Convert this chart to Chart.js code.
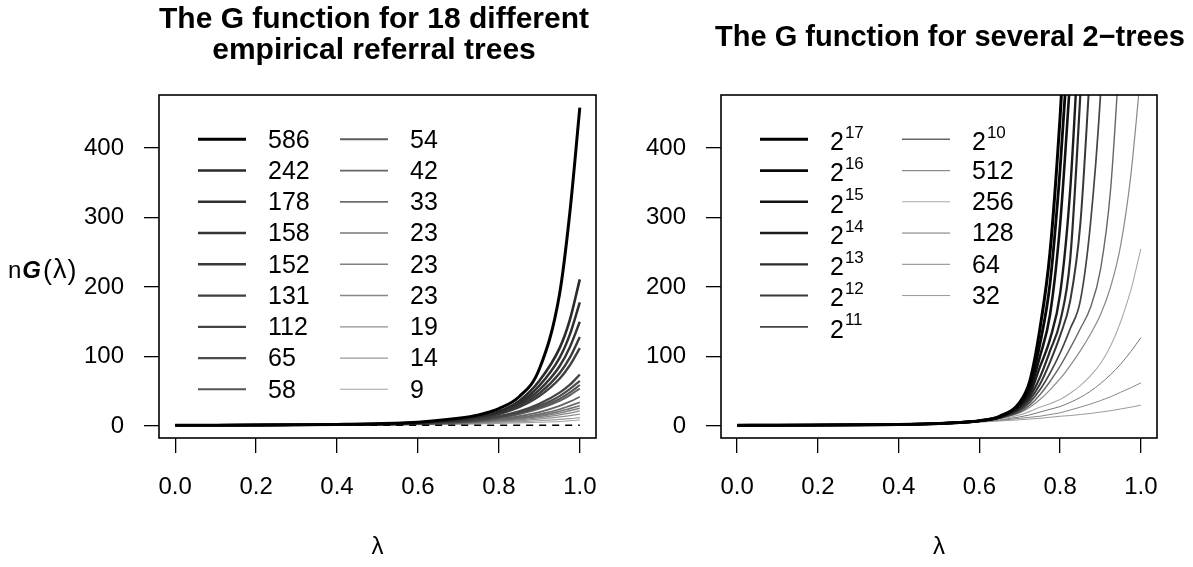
<!DOCTYPE html>
<html>
<head>
<meta charset="utf-8">
<script src="https://cdn.jsdelivr.net/npm/chart.js@4.4.1/dist/chart.umd.min.js"></script>
<style>
html, body { margin: 0; padding: 0; background: #fff; }
#wrap { position: relative; width: 1193px; height: 567px; }
canvas { position: absolute; left: 0; top: 0; }
</style>
</head>
<body>
<div id="wrap">
<canvas id="left" width="1193" height="567"></canvas>
<canvas id="right" width="1193" height="567"></canvas>
</div>
<script>
const FONT = "'Liberation Sans', Arial, Helvetica, sans-serif";

// ---- left panel: 18 empirical referral trees ----
var lamLeft = [0, 0.1, 0.2, 0.3, 0.4, 0.5, 0.6, 0.7, 0.75, 0.8, 0.85, 0.9, 0.95, 0.975, 1.0];
var leftLabels = ['586', '242', '178', '158', '152', '131', '112', '65', '58',
                  '54', '42', '33', '23', '23', '23', '19', '14', '9'];
var g586 = [1, 1.1, 1.3, 1.7, 2.3, 3.3, 5.5, 11, 16, 25, 42, 82, 190, 305, 458];
var g242 = [1, 1.1, 1.3, 1.6, 2.2, 3.1, 5.0, 9.5, 14, 21, 36, 65, 112, 152, 211];
var g178 = [1, 1.1, 1.3, 1.6, 2.1, 3.0, 4.8, 9, 13, 20, 33, 58, 98, 131, 178];
var g158 = [1, 1.1, 1.3, 1.6, 2.1, 2.9, 4.6, 8.5, 12.5, 19, 31, 52, 86, 113, 150];
var g152 = [1, 1.1, 1.3, 1.6, 2.0, 2.8, 4.4, 8, 12, 18, 29, 47, 76, 98, 128];
var g131 = [1, 1.1, 1.3, 1.5, 2.0, 2.7, 4.2, 7.5, 11, 17, 27, 43, 68, 87, 112];
var g112 = [1, 1.1, 1.2, 1.5, 1.9, 2.5, 3.8, 6.5, 9, 14, 21, 32, 48, 59, 74];
var g65 = [1, 1.1, 1.2, 1.5, 1.9, 2.4, 3.6, 6, 8.5, 13, 19, 29, 43, 53, 65];
var g58 = [1, 1.1, 1.2, 1.4, 1.8, 2.3, 3.4, 5.7, 8, 12, 18, 27, 39, 48, 59];
var g54 = [1, 1.1, 1.2, 1.4, 1.8, 2.3, 3.3, 5.5, 7.6, 11.5, 17, 25, 36, 44, 54];
var g42 = [1, 1.1, 1.2, 1.4, 1.7, 2.2, 3.1, 5, 6.8, 10, 14, 20, 29, 35, 42];
var g33 = [1, 1.1, 1.2, 1.4, 1.7, 2.1, 2.9, 4.6, 6.2, 9, 12, 17, 24, 29, 34];
var g23a = [1, 1.1, 1.2, 1.4, 1.6, 2.0, 2.8, 4.3, 5.7, 8, 11, 15, 21, 25, 29];
var g23b = [1, 1.1, 1.2, 1.3, 1.6, 2.0, 2.7, 4.1, 5.4, 7.5, 10, 13.5, 18.5, 22, 25.5];
var g23c = [1, 1.1, 1.2, 1.3, 1.6, 1.9, 2.6, 3.9, 5, 7, 9, 12, 16, 18.5, 21.7];
var g19 = [1, 1.1, 1.2, 1.3, 1.5, 1.8, 2.4, 3.5, 4.4, 6, 7.5, 10, 13, 15, 17];
var g14 = [1, 1.1, 1.1, 1.3, 1.4, 1.7, 2.2, 3.0, 3.7, 5, 6, 7.5, 9.5, 10.5, 12];
var g9 = [1, 1.0, 1.1, 1.2, 1.3, 1.5, 1.9, 2.5, 3.0, 3.7, 4.4, 5.3, 6.5, 7.5, 8.7];
var leftSeries = [g586, g242, g178, g158, g152, g131, g112, g65, g58,
                  g54, g42, g33, g23a, g23b, g23c, g19, g14, g9];
var refLine = [1, 1];
var refLam = [0, 1];

// ---- right panel: 2-trees ----
var lamRight = [0, 0.1, 0.2, 0.3, 0.4, 0.5, 0.55, 0.6, 0.65, 0.7, 0.725, 0.75, 0.775,
                0.8, 0.825, 0.85, 0.875, 0.9, 0.925, 0.95, 0.975, 1.0];
var rightLabels = ['2^17', '2^16', '2^15', '2^14', '2^13', '2^12', '2^11',
                   '2^10', '512', '256', '128', '64', '32'];
var t17 = [1, 1.1, 1.3, 1.6, 2.1, 3.5, 5, 7.5, 14, 34, 65, 140, 250, 445, 700];
var t16 = [1, 1.1, 1.3, 1.6, 2.1, 3.5, 5, 7.5, 13.5, 32, 58, 118, 205, 370, 590];
var t15 = [1, 1.1, 1.3, 1.6, 2.1, 3.5, 5, 7.5, 13, 30, 52, 100, 160, 290, 500];
var t14 = [1, 1.1, 1.3, 1.6, 2.1, 3.5, 5, 7.4, 12.5, 28, 46, 85, 125, 190, 340, 600];
var t13 = [1, 1.1, 1.3, 1.6, 2.1, 3.4, 4.9, 7.3, 12, 26, 42, 70, 108, 150, 240, 476, 760];
var t12 = [1, 1.1, 1.3, 1.6, 2.1, 3.4, 4.9, 7.2, 12, 24, 38, 60, 92, 130, 180, 290, 520];
var t11 = [1, 1.1, 1.3, 1.6, 2.1, 3.4, 4.8, 7.1, 11.5, 22, 34, 52, 76, 105, 140, 180, 290, 476, 760];
var t10 = [1, 1.1, 1.3, 1.6, 2.1, 3.3, 4.7, 7, 11.5, 20, 30, 45, 64, 86, 112, 140, 170, 225, 340, 560];
var t512 = [1, 1.1, 1.3, 1.6, 2.0, 3.3, 4.6, 6.8, 11, 19, 27, 38, 52, 68, 87, 108, 132, 160, 200, 260, 360, 510];
var t256 = [1, 1.1, 1.3, 1.6, 2.0, 3.2, 4.5, 6.6, 10, 16, 21, 27, 32, 38, 47, 58, 72, 90, 115, 150, 195, 255];
var t128 = [1, 1.1, 1.3, 1.5, 2.0, 3.1, 4.3, 6.3, 9, 13, 16, 20, 24, 28, 34, 41, 50, 61, 74, 89, 107, 127];
var t64 = [1, 1.1, 1.2, 1.5, 1.9, 3.0, 4.1, 5.9, 8, 11, 12.5, 14, 16.5, 19, 23, 27, 31.5, 36.5, 42, 48.5, 55, 62];
var t32 = [1, 1.1, 1.2, 1.5, 1.9, 2.8, 3.8, 5.5, 7.2, 9, 10, 11, 12.5, 14, 15, 16.5, 18, 20, 22, 24.5, 27, 30];
var rightSeries = [t17, t16, t15, t14, t13, t12, t11, t10, t512, t256, t128, t64, t32];

var xTicks = [0, 0.2, 0.4, 0.6, 0.8, 1.0];
var yTicks = [0, 100, 200, 300, 400];

// styles
var leftColors = ['#000000', '#2a2a2a', '#303030', '#353535', '#3a3a3a', '#3f3f3f', '#444444', '#4c4c4c',
                  '#555555', '#5e5e5e', '#666666', '#6e6e6e', '#777777', '#808080', '#888888',
                  '#909090', '#999999', '#a3a3a3'];
var leftWidths = [3, 2.6, 2.5, 2.45, 2.4, 2.35, 2.3, 2.2, 2.1, 1.9, 1.8, 1.7, 1.6, 1.5, 1.4, 1.3, 1.2, 1.1];
var rightColors = ['#000000', '#080808', '#111111', '#1c1c1c', '#2a2a2a', '#383838', '#444444',
                   '#666666', '#8a8a8a', '#aaaaaa', '#777777', '#888888', '#999999'];
var rightWidths = [3, 2.8, 2.6, 2.4, 2.2, 2, 1.7, 1.4, 1.2, 1.1, 1, 1, 1];

function toPoints(lam, vals) {
    var pts = [];
    vals.forEach(function(v, i) {
        if (v !== null && v !== undefined) pts.push({x: lam[i], y: v});
    });
    return pts;
}

// box, titles, legend and the horizontal y label, drawn R-style
const rStyle = {
    id: 'rStyle',
    afterDraw(chart, args, o) {
        const ctx = chart.ctx;
        const a = chart.chartArea;
        ctx.save();
        ctx.strokeStyle = '#000';
        ctx.lineWidth = 1.6;
        ctx.strokeRect(a.left, a.top, a.right - a.left, a.bottom - a.top);

        // title
        ctx.fillStyle = '#000';
        ctx.textAlign = 'center';
        ctx.textBaseline = 'middle';
        ctx.font = 'bold ' + o.titleSize + 'px ' + FONT;
        o.title.forEach(function(line, i) {
            ctx.fillText(line, o.titleX, o.titleY[i]);
        });

        // legend
        o.labels.forEach(function(lab, i) {
            const col = i < o.nCol1 ? 0 : 1;
            const row = col ? i - o.nCol1 : i;
            const y = a.top + 44.3 + row * 31.25;
            const x0 = a.left + (col ? 181 : 39);
            ctx.strokeStyle = o.colors[i];
            ctx.lineWidth = o.widths[i];
            ctx.beginPath();
            ctx.moveTo(x0, y);
            ctx.lineTo(x0 + 48, y);
            ctx.stroke();
            const tx = a.left + (col ? 251 : 109);
            ctx.textAlign = 'left';
            ctx.textBaseline = 'middle';
            if (lab.indexOf('^') >= 0) {
                const parts = lab.split('^');
                ctx.font = '25px ' + FONT;
                ctx.fillText(parts[0], tx, y + 4);
                const w = ctx.measureText(parts[0]).width;
                ctx.font = '17px ' + FONT;
                ctx.fillText(parts[1], tx + w + 1, y - 6);
            } else {
                ctx.font = '25px ' + FONT;
                ctx.fillText(lab, tx, y + 1.5);
            }
        });

        // y axis label, horizontal
        if (o.ylab) {
            ctx.textAlign = 'left';
            ctx.textBaseline = 'alphabetic';
            let x = 8;
            const yb = 278;
            ctx.font = '24px ' + FONT;
            ctx.fillText('n', x, yb);
            x += ctx.measureText('n').width + 1;
            ctx.font = 'italic bold 24px ' + FONT;
            ctx.fillText('G', x, yb);
            x += ctx.measureText('G').width + 2;
            ctx.font = '27px ' + FONT;
            ctx.fillText('(', x, yb + 1);
            x += ctx.measureText('(').width + 1;
            ctx.fillText('\u03bb', x, yb);
            x += ctx.measureText('\u03bb').width + 1;
            ctx.fillText(')', x, yb + 1);
        }
        ctx.restore();
    }
};

function makePanel(canvasId, datasets, pad, yWidth, styleOpts) {
    const config = {
        type: 'line',
        data: { datasets: datasets },
        options: {
            responsive: false,
            animation: false,
            events: [],
            layout: { padding: pad },
            elements: {
                point: { radius: 0 },
                line: { capBezierPoints: false, cubicInterpolationMode: 'monotone' }
            },
            plugins: {
                legend: { display: false },
                tooltip: { enabled: false },
                rStyle: styleOpts
            },
            scales: {
                x: {
                    type: 'linear',
                    min: -0.04,
                    max: 1.04,
                    afterBuildTicks: function(scale) {
                        scale.ticks = xTicks.map(function(v) { return {value: v}; });
                    },
                    afterFit: function(scale) { scale.height = 129; },
                    border: { display: false },
                    grid: { drawOnChartArea: false, drawTicks: true, tickLength: 15, color: '#000', lineWidth: 1.3 },
                    ticks: {
                        padding: 20,
                        maxRotation: 0,
                        autoSkip: false,
                        color: '#000',
                        font: { family: FONT, size: 24 },
                        callback: function(v) { return Number(v).toFixed(1); }
                    },
                    title: {
                        display: true,
                        text: '\u03bb',
                        color: '#000',
                        font: { family: FONT, size: 24 },
                        padding: { top: 0, bottom: 5 }
                    }
                },
                y: {
                    type: 'linear',
                    min: -17.3,
                    max: 476.3,
                    afterBuildTicks: function(scale) {
                        scale.ticks = yTicks.map(function(v) { return {value: v}; });
                    },
                    afterFit: function(scale) { scale.width = yWidth; },
                    border: { display: false },
                    grid: { drawOnChartArea: false, drawTicks: true, tickLength: 15, color: '#000', lineWidth: 1.3 },
                    ticks: {
                        padding: 20,
                        autoSkip: false,
                        color: '#000',
                        font: { family: FONT, size: 24 },
                        callback: function(v) { return String(v); }
                    }
                }
            }
        },
        plugins: [rStyle]
    };
    return new Chart(document.getElementById(canvasId), config);
}

// left datasets: dashed reference on top, then curves (index 0 drawn last)
var leftSets = [{
    data: toPoints(refLam, refLine),
    borderColor: '#000',
    borderWidth: 1.5,
    borderDash: [7, 6],
    clip: 0
}];
leftSeries.forEach(function(s, i) {
    leftSets.push({
        data: toPoints(lamLeft, s),
        borderColor: leftColors[i],
        borderWidth: leftWidths[i],
        clip: 0
    });
});

var rightSets = rightSeries.map(function(s, i) {
    return {
        data: toPoints(lamRight, s),
        borderColor: rightColors[i],
        borderWidth: rightWidths[i],
        clip: 0
    };
});

makePanel('left', leftSets, {left: 0, right: 597, top: 95, bottom: 0}, 159, {
    title: ['The G function for 18 different', 'empirical referral trees'],
    titleY: [20, 51],
    titleX: 374,
    titleSize: 30,
    labels: leftLabels,
    colors: leftColors,
    widths: leftWidths,
    nCol1: 9,
    ylab: true
});

makePanel('right', rightSets, {left: 600, right: 36, top: 95, bottom: 0}, 121, {
    title: ['The G function for several 2\u2212trees'],
    titleY: [38],
    titleX: 950,
    titleSize: 29,
    labels: rightLabels,
    colors: rightColors,
    widths: rightWidths,
    nCol1: 7,
    ylab: false
});
</script>
</body>
</html>
